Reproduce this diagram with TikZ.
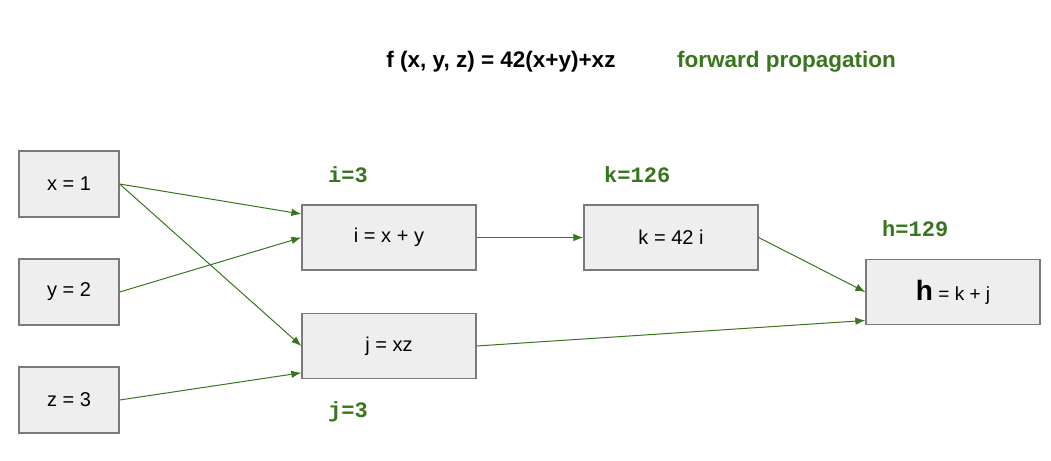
\documentclass[tikz,border=0pt]{standalone}
\usepackage{fontspec}
\setmainfont{Liberation Sans}
\setmonofont{Liberation Mono}
\usetikzlibrary{arrows.meta,positioning}
\definecolor{fwdgreen}{HTML}{38761D}
\definecolor{boxfill}{HTML}{EEEEEE}
\definecolor{boxline}{HTML}{7A7A7A}
\tikzset{
    inbox/.style={draw=boxline, fill=boxfill, line width=1.3pt, inner sep=0pt,
        minimum width=100pt, minimum height=66pt, font=\fontsize{20}{24}\selectfont},
    opbox/.style={inbox, minimum width=174pt, minimum height=65pt},
    val/.style={anchor=west, inner sep=0pt, text=fwdgreen, font=\fontsize{22}{26}\ttfamily\bfseries},
    title/.style={inner sep=0pt, font=\fontsize{22.5}{26}\selectfont\bfseries},
    flow/.style={draw=fwdgreen, line width=1pt, -{Latex[length=10pt,width=7.5pt]}}
}
\begin{document}
\begin{tikzpicture}[x=1pt,y=-1pt]
    \fill[white] (0,0) rectangle (1051,460);
    \useasboundingbox (0,0) rectangle (1051,460);
    % heading
    \node[title] (fxyz) at (501,62) {f (x, y, z) = 42(x+y)+xz};
    \node[title, text=fwdgreen] (fwd) at (786.5,62) {forward propagation};
    % inputs
    \node[inbox] (x) at (69,184) {x = 1};
    \node[inbox] (y) at (69,292) {y = 2};
    \node[inbox] (z) at (69,400) {z = 3};
    % operations
    \node[opbox] (i) at (389,237.5) {i = x + y};
    \node[opbox] (j) at (389,346) {j = xz};
    \node[opbox] (k) at (671,237.5) {k = 42 i};
    \node[opbox] (h) at (953,292) {{\fontsize{28}{30}\selectfont\bfseries h} {\fontsize{19}{22}\selectfont = k + j}};
    % forward values
    \node[val] (iv) at (328,175) {i=3};
    \node[val] (jv) at (328,412) {j=3};
    \node[val] (kv) at (604,175) {k=126};
    \node[val] (hv) at (882,229) {h=129};
    % edges
    \draw[flow] (x.east) -- (i.165);
    \draw[flow] (x.east) -- (j.west);
    \draw[flow] (y.east) -- (i.west);
    \draw[flow] (z.east) -- (j.197);
    \draw[flow] (i.east) -- (k.west);
    \draw[flow] (k.east) -- (h.west);
    \draw[flow] (j.east) -- (h.198);
\end{tikzpicture}
\end{document}
